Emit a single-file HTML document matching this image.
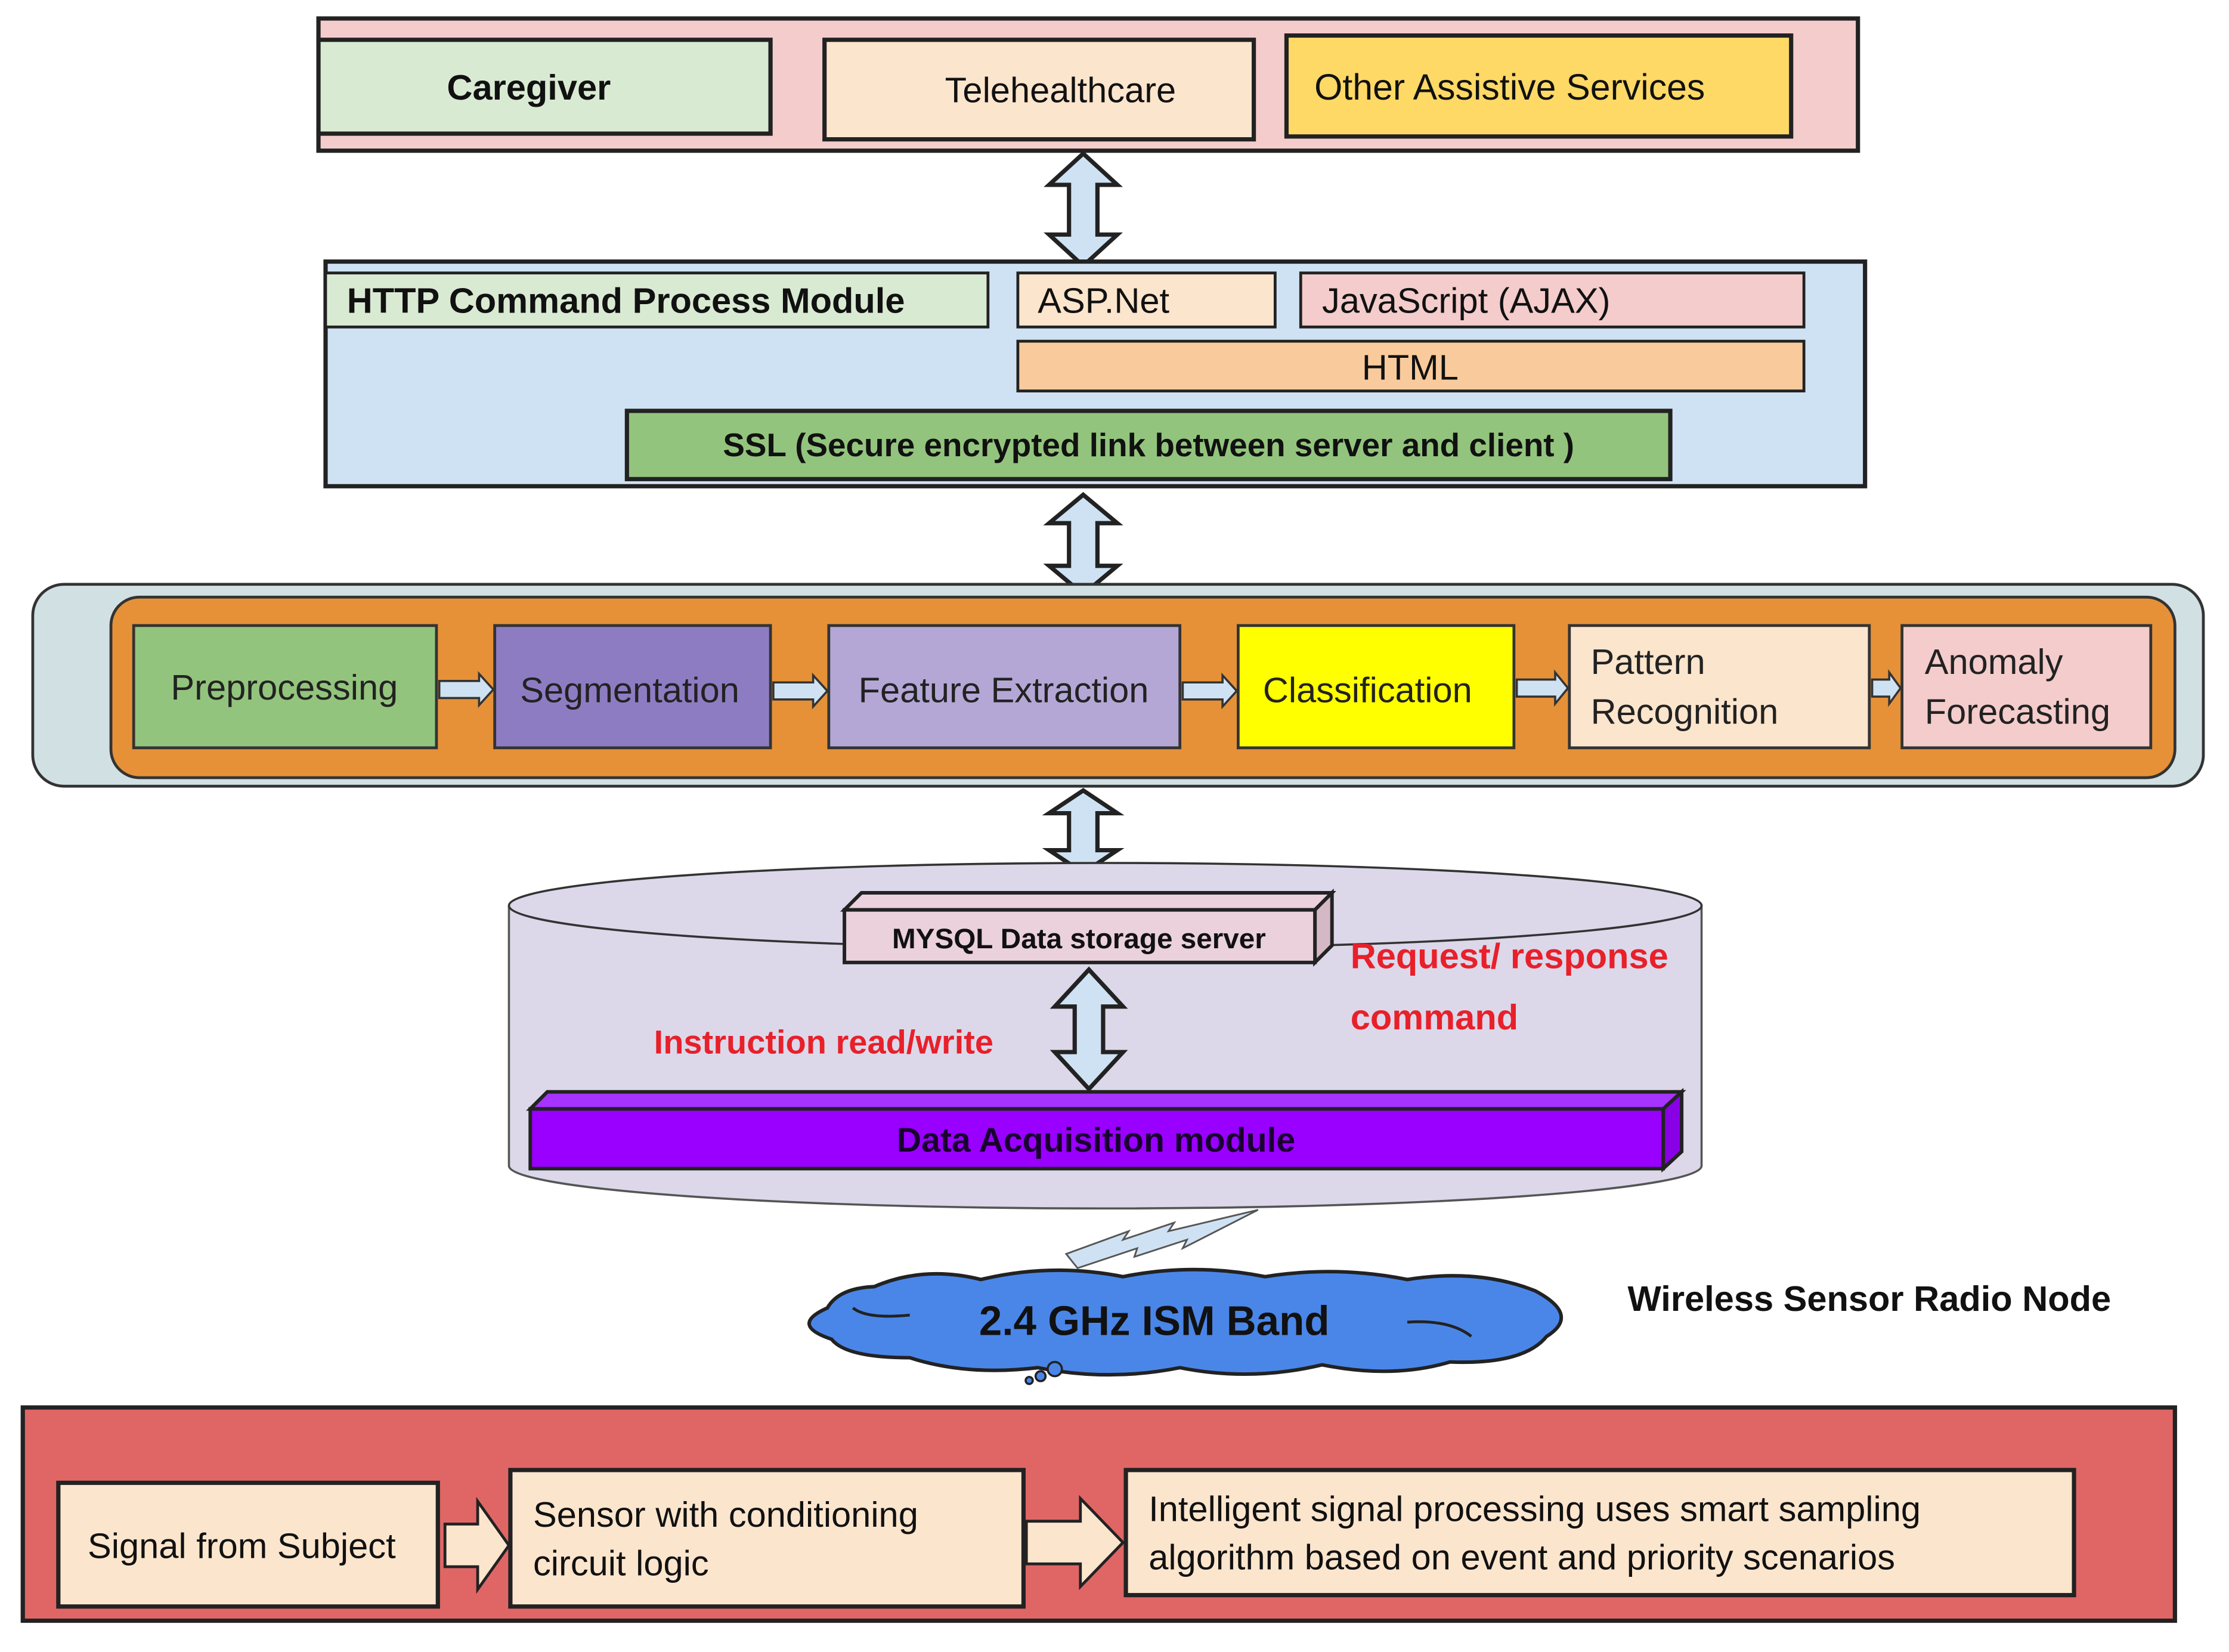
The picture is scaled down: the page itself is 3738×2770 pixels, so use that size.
<!DOCTYPE html>
<html><head><meta charset="utf-8"><style>html,body{margin:0;padding:0;background:#fff}svg{display:block}text{font-family:"Liberation Sans",Arial,sans-serif}</style></head><body>
<svg width="3738" height="2770" viewBox="0 0 1568 1162" xmlns="http://www.w3.org/2000/svg">
<rect width="1568" height="1162" fill="#fff"/>
<!-- top panel -->
<rect x="224" y="13" width="1083" height="93" fill="#f4cccc" stroke="#222" stroke-width="3"/>
<rect x="224" y="28" width="318" height="66" fill="#d9ead3" stroke="#222" stroke-width="3"/>
<text x="372" y="70" font-size="25" font-weight="bold" text-anchor="middle" fill="#111">Caregiver</text>
<rect x="580" y="28" width="302" height="70" fill="#fce5cd" stroke="#222" stroke-width="3"/>
<text x="746" y="72" font-size="25" text-anchor="middle" fill="#111">Telehealthcare</text>
<rect x="905" y="25" width="355" height="71" fill="#ffd966" stroke="#222" stroke-width="3"/>
<text x="1062" y="70" font-size="25.5" text-anchor="middle" fill="#111">Other Assistive Services</text>
<path d="M762,108 L786,130 L772,130 L772,165 L786,165 L762,187 L738,165 L752,165 L752,130 L738,130 Z" fill="#cfe2f3" stroke="#222" stroke-width="3"/>
<!-- panel 2 -->
<rect x="229" y="184" width="1083" height="158" fill="#cfe2f3" stroke="#222" stroke-width="3"/>
<rect x="229" y="192" width="466" height="38" fill="#d9ead3" stroke="#222" stroke-width="2"/>
<text x="244" y="220" font-size="25" font-weight="bold" fill="#111">HTTP Command Process Module</text>
<rect x="716" y="192" width="181" height="38" fill="#fce5cd" stroke="#222" stroke-width="2"/>
<text x="730" y="220" font-size="25" fill="#111">ASP.Net</text>
<rect x="915" y="192" width="354" height="38" fill="#f4cccc" stroke="#222" stroke-width="2"/>
<text x="930" y="220" font-size="25" fill="#111">JavaScript (AJAX)</text>
<rect x="716" y="240" width="553" height="35" fill="#f9cb9c" stroke="#222" stroke-width="2"/>
<text x="992" y="267" font-size="25" text-anchor="middle" fill="#111">HTML</text>
<rect x="441" y="289" width="734" height="48" fill="#93c47d" stroke="#222" stroke-width="3"/>
<text x="808" y="321" font-size="23" font-weight="bold" text-anchor="middle" fill="#111">SSL (Secure encrypted link between server and client )</text>
<path d="M762,348 L786,368 L772,368 L772,398 L786,398 L762,418 L738,398 L752,398 L752,368 L738,368 Z" fill="#cfe2f3" stroke="#222" stroke-width="3"/>
<!-- panel 3 -->
<rect x="23" y="411" width="1527" height="142" rx="22" fill="#d0e0e3" stroke="#333" stroke-width="2"/>
<rect x="78" y="420" width="1452" height="127" rx="20" fill="#e69138" stroke="#333" stroke-width="2"/>
<rect x="94" y="440" width="213" height="86" fill="#93c47d" stroke="#333" stroke-width="2"/>
<text x="200" y="492" font-size="25" text-anchor="middle" fill="#222">Preprocessing</text>
<rect x="348" y="440" width="194" height="86" fill="#8e7cc3" stroke="#333" stroke-width="2"/>
<text x="443" y="494" font-size="25" text-anchor="middle" fill="#222">Segmentation</text>
<rect x="583" y="440" width="247" height="86" fill="#b4a7d6" stroke="#333" stroke-width="2"/>
<text x="706" y="494" font-size="25" text-anchor="middle" fill="#222">Feature Extraction</text>
<rect x="871" y="440" width="194" height="86" fill="#ffff00" stroke="#333" stroke-width="2"/>
<text x="962" y="494" font-size="25" text-anchor="middle" fill="#222">Classification</text>
<rect x="1104" y="440" width="211" height="86" fill="#fce5cd" stroke="#333" stroke-width="2"/>
<text x="1119" y="474" font-size="25" fill="#222">Pattern</text>
<text x="1119" y="509" font-size="25" fill="#222">Recognition</text>
<rect x="1338" y="440" width="175" height="86" fill="#f4cccc" stroke="#333" stroke-width="2"/>
<text x="1354" y="474" font-size="25" fill="#222">Anomaly</text>
<text x="1354" y="509" font-size="25" fill="#222">Forecasting</text>
<g fill="#cfe2f3" stroke="#333" stroke-width="1.5">
<path d="M309,479 L337,479 L337,474 L347,485 L337,496 L337,491 L309,491 Z"/>
<path d="M544,480 L572,480 L572,475 L582,486 L572,497 L572,492 L544,492 Z"/>
<path d="M832,480 L860,480 L860,475 L870,486 L860,497 L860,492 L832,492 Z"/>
<path d="M1067,478 L1094,478 L1094,473 L1103,484 L1094,495 L1094,490 L1067,490 Z"/>
<path d="M1317,478 L1329,478 L1329,473 L1337,484 L1329,495 L1329,490 L1317,490 Z"/>
</g>
<path d="M762,556 L786,572 L772,572 L772,598 L786,598 L762,614 L738,598 L752,598 L752,572 L738,572 Z" fill="#cfe2f3" stroke="#222" stroke-width="3"/>
<!-- cylinder -->
<path d="M358,637 L358,820 A419.5,30 0 0 0 1197,820 L1197,637" fill="#dcd8ea" stroke="#555" stroke-width="1.5"/>
<ellipse cx="777.5" cy="637" rx="419.5" ry="30" fill="#dcd8ea" stroke="#333" stroke-width="1.5"/>
<path d="M594,640 L606,628 L937,628 L925,640 Z" fill="#ead1dc" stroke="#222" stroke-width="2.5"/>
<path d="M925,640 L937,628 L937,665 L925,677 Z" fill="#d5b8c5" stroke="#222" stroke-width="2.5"/>
<rect x="594" y="640" width="331" height="37" fill="#ead1dc" stroke="#222" stroke-width="2.5"/>
<text x="759" y="667" font-size="20" font-weight="bold" text-anchor="middle" fill="#111">MYSQL Data storage server</text>
<path d="M766,682 L790,708 L776,708 L776,740 L790,740 L766,766 L742,740 L756,740 L756,708 L742,708 Z" fill="#cfe2f3" stroke="#222" stroke-width="3"/>
<text x="950" y="681" font-size="25" font-weight="bold" fill="#e8202a">Request/ response</text>
<text x="950" y="724" font-size="25" font-weight="bold" fill="#e8202a">command</text>
<text x="460" y="741" font-size="23.5" font-weight="bold" fill="#e8202a">Instruction read/write</text>
<path d="M373,780 L385,768 L1183,768 L1170,780 Z" fill="#a633ff" stroke="#222" stroke-width="2.5"/>
<path d="M1170,780 L1183,768 L1183,810 L1170,822 Z" fill="#8a00e6" stroke="#222" stroke-width="2.5"/>
<rect x="373" y="780" width="797" height="42" fill="#9900ff" stroke="#222" stroke-width="2.5"/>
<text x="771" y="810" font-size="24" font-weight="bold" text-anchor="middle" fill="#1a0030">Data Acquisition module</text>
<path d="M885,851 L822,866 L826,860 L790,872 L794,866 L750,882 L758,892 L800,878 L798,884 L835,872 L832,878 Z" fill="#cfe2f3" stroke="#555" stroke-width="1.2"/>
<!-- cloud -->
<path d="M615,905 Q650,890 690,900 Q740,888 790,898 Q840,888 890,898 Q940,890 990,900 Q1040,892 1080,908 Q1112,925 1088,940 Q1072,960 1020,958 Q980,970 930,960 Q880,972 830,962 Q780,972 730,962 Q680,968 640,955 Q595,955 585,942 Q555,932 582,920 Q590,906 615,905 Z" fill="#4a86e8" stroke="#222" stroke-width="2.5"/>
<path d="M990,930 Q1020,928 1035,940 M640,925 Q610,928 600,920" fill="none" stroke="#222" stroke-width="2"/>
<circle cx="742" cy="963" r="5" fill="#4a86e8" stroke="#222" stroke-width="1.5"/>
<circle cx="732" cy="968" r="3.5" fill="#4a86e8" stroke="#222" stroke-width="1.5"/>
<circle cx="724" cy="971" r="2.5" fill="#4a86e8" stroke="#222" stroke-width="1.5"/>
<text x="812" y="939" font-size="29" font-weight="bold" text-anchor="middle" fill="#111">2.4 GHz ISM Band</text>
<text x="1145" y="922" font-size="25" font-weight="bold" fill="#111">Wireless Sensor Radio Node</text>
<!-- bottom -->
<rect x="16" y="990" width="1514" height="150" fill="#e06666" stroke="#222" stroke-width="3"/>
<rect x="41" y="1043" width="267" height="87" fill="#fce5cd" stroke="#222" stroke-width="3"/>
<text x="170" y="1096" font-size="25" text-anchor="middle" fill="#111">Signal from Subject</text>
<rect x="359" y="1034" width="361" height="96" fill="#fce5cd" stroke="#222" stroke-width="3"/>
<text x="375" y="1074" font-size="25" fill="#111">Sensor with conditioning</text>
<text x="375" y="1108" font-size="25" fill="#111">circuit logic</text>
<rect x="792" y="1034" width="667" height="88" fill="#fce5cd" stroke="#222" stroke-width="3"/>
<text x="808" y="1070" font-size="25" fill="#111">Intelligent signal processing uses smart sampling</text>
<text x="808" y="1104" font-size="25" fill="#111">algorithm based on event and priority scenarios</text>
<path d="M313,1072 L336,1072 L336,1056 L358,1087 L336,1118 L336,1102 L313,1102 Z" fill="#fce5cd" stroke="#222" stroke-width="2"/>
<path d="M722,1070 L760,1070 L760,1054 L790,1085 L760,1116 L760,1100 L722,1100 Z" fill="#fce5cd" stroke="#222" stroke-width="2"/>
</svg>
</body></html>
